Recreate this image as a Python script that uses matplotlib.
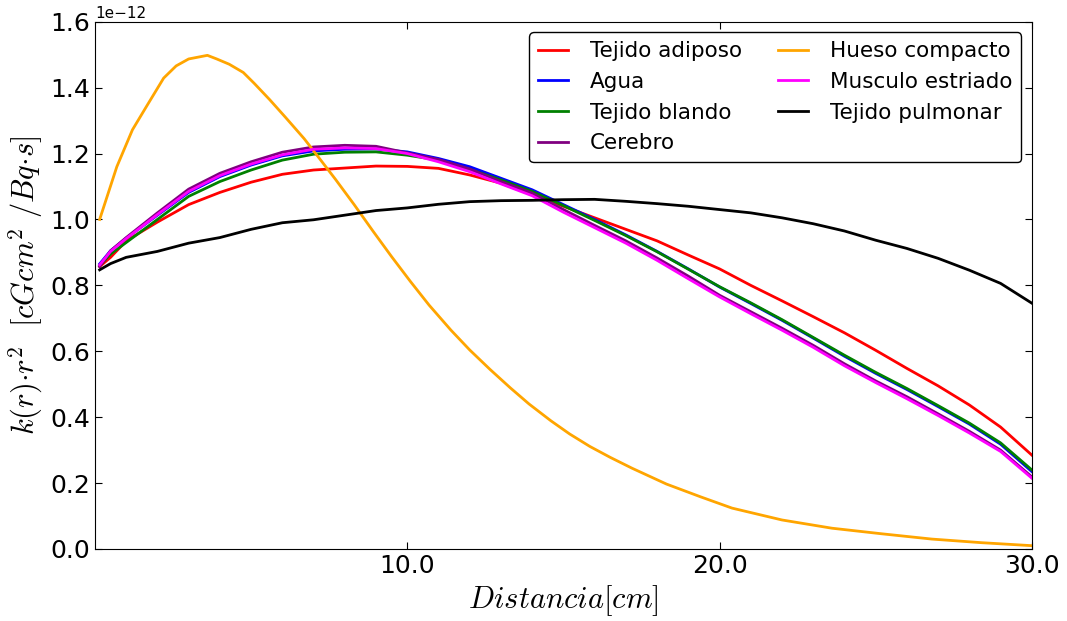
import matplotlib
matplotlib.use("Agg")
import matplotlib.pyplot as plt
from matplotlib.ticker import FormatStrFormatter, ScalarFormatter

plt.rcParams["mathtext.fontset"] = "cm"
plt.rcParams["xtick.direction"] = "in"
plt.rcParams["ytick.direction"] = "in"
plt.rcParams["xtick.top"] = True
plt.rcParams["ytick.right"] = True

# distance grid (cm) shared by the soft tissue curves
distancia = [0.15, 0.5, 1, 2, 3, 4, 5, 6, 7, 8, 9, 10, 11, 12, 13, 14, 15,
             16, 17, 18, 19, 20, 21, 22, 23, 24, 25, 26, 27, 28, 29, 30]

# values in units of 1e-12 cGcm^2/Bq.s
tejido_adiposo = [0.857, 0.885, 0.935, 0.992, 1.045, 1.082, 1.113, 1.137, 1.150, 1.156, 1.162,
                  1.161, 1.155, 1.135, 1.110, 1.075, 1.040, 1.005, 0.970, 0.935, 0.892,
                  0.850, 0.800, 0.753, 0.705, 0.656, 0.603, 0.548, 0.495, 0.437, 0.370, 0.285]
agua = [0.865, 0.905, 0.943, 1.013, 1.082, 1.130, 1.165, 1.193, 1.208, 1.213, 1.214,
        1.205, 1.185, 1.160, 1.125, 1.090, 1.045, 1.000, 0.953, 0.903, 0.850,
        0.795, 0.745, 0.694, 0.640, 0.585, 0.533, 0.484, 0.432, 0.379, 0.318, 0.235]
tejido_blando = [0.860, 0.895, 0.930, 1.000, 1.070, 1.115, 1.150, 1.180, 1.198, 1.204, 1.205,
                 1.195, 1.180, 1.152, 1.120, 1.085, 1.042, 0.997, 0.951, 0.902, 0.849,
                 0.796, 0.747, 0.696, 0.642, 0.588, 0.536, 0.487, 0.435, 0.382, 0.322, 0.240]
cerebro = [0.857, 0.905, 0.945, 1.020, 1.092, 1.140, 1.175, 1.204, 1.220, 1.225, 1.222,
           1.202, 1.182, 1.153, 1.115, 1.080, 1.030, 0.982, 0.935, 0.883, 0.828,
           0.770, 0.720, 0.670, 0.618, 0.562, 0.510, 0.462, 0.410, 0.357, 0.300, 0.219]
musculo_estriado = [0.862, 0.903, 0.942, 1.015, 1.085, 1.133, 1.168, 1.196, 1.213, 1.217, 1.215,
                    1.200, 1.175, 1.145, 1.108, 1.072, 1.022, 0.975, 0.928, 0.876, 0.820,
                    0.765, 0.714, 0.664, 0.612, 0.556, 0.505, 0.456, 0.405, 0.352, 0.296, 0.215]
tejido_pulmonar = [0.847, 0.866, 0.885, 0.903, 0.928, 0.945, 0.970, 0.990, 0.999, 1.013, 1.027,
                   1.035, 1.046, 1.054, 1.057, 1.058, 1.060, 1.061, 1.055, 1.048, 1.040,
                   1.030, 1.020, 1.005, 0.987, 0.965, 0.937, 0.912, 0.882, 0.846, 0.806, 0.746]

# compact bone has a sharp peak, so it gets its own grid
distancia_hueso = [0.15, 0.7, 1.2, 1.65, 2.2, 2.6, 3.0, 3.6, 3.9, 4.3,
                   4.75, 5.1, 5.6, 6.1, 6.7, 7.1, 7.7, 8.3, 8.9, 9.5,
                   10.1, 10.7, 11.4, 12.0, 12.65, 13.3, 13.9, 14.6, 15.2, 15.85,
                   16.5, 17.2, 18.3, 19.4, 20.4, 22.0, 23.6, 25.2, 26.8, 28.4, 30.0]
hueso_compacto = [1.000, 1.160, 1.272, 1.343, 1.429, 1.466, 1.487, 1.498, 1.487, 1.471,
                  1.446, 1.413, 1.363, 1.310, 1.245, 1.196, 1.122, 1.045, 0.965, 0.887,
                  0.812, 0.740, 0.664, 0.604, 0.545, 0.489, 0.440, 0.389, 0.349, 0.311,
                  0.278, 0.245, 0.197, 0.158, 0.124, 0.088, 0.063, 0.046, 0.030, 0.019, 0.010]

series = [
    ("Tejido adiposo", distancia, tejido_adiposo, "red"),
    ("Agua", distancia, agua, "blue"),
    ("Tejido blando", distancia, tejido_blando, "green"),
    ("Cerebro", distancia, cerebro, "purple"),
    ("Hueso compacto", distancia_hueso, hueso_compacto, "orange"),
    ("Musculo estriado", distancia, musculo_estriado, "magenta"),
    ("Tejido pulmonar", distancia, tejido_pulmonar, "black"),
]

fig = plt.figure(figsize=(10.67, 6.21), dpi=100)
ax = fig.add_axes([0.089, 0.116, 0.878, 0.849])

for nombre, x, y, color in series:
    ax.plot(x, [v * 1e-12 for v in y], color=color, linewidth=2, label=nombre)

ax.set_xlim(0, 30)
ax.set_ylim(0, 1.6e-12)
ax.set_xticks([10, 20, 30])
ax.xaxis.set_major_formatter(FormatStrFormatter("%.1f"))
ax.set_yticks([i * 0.2e-12 for i in range(9)])
fmt = ScalarFormatter(useMathText=False)
fmt.set_powerlimits((-3, 3))
ax.yaxis.set_major_formatter(fmt)
ax.yaxis.get_offset_text().set_fontsize(11)
ax.tick_params(labelsize=18, length=5)

ax.set_xlabel(r"$Distancia [cm]$", fontsize=22)
ax.set_ylabel(r"$k(r){\cdot}r^2\ \ [cGcm^2\ /Bq{\cdot}s]$", fontsize=22)

ax.legend(ncol=2, loc="upper right", fontsize=15.5, fancybox=True,
          framealpha=1, edgecolor="black", handlelength=1.4,
          handletextpad=1.0, columnspacing=1.7, labelspacing=0.5,
          borderaxespad=0.5)

fig.savefig("out.png", dpi=100)
